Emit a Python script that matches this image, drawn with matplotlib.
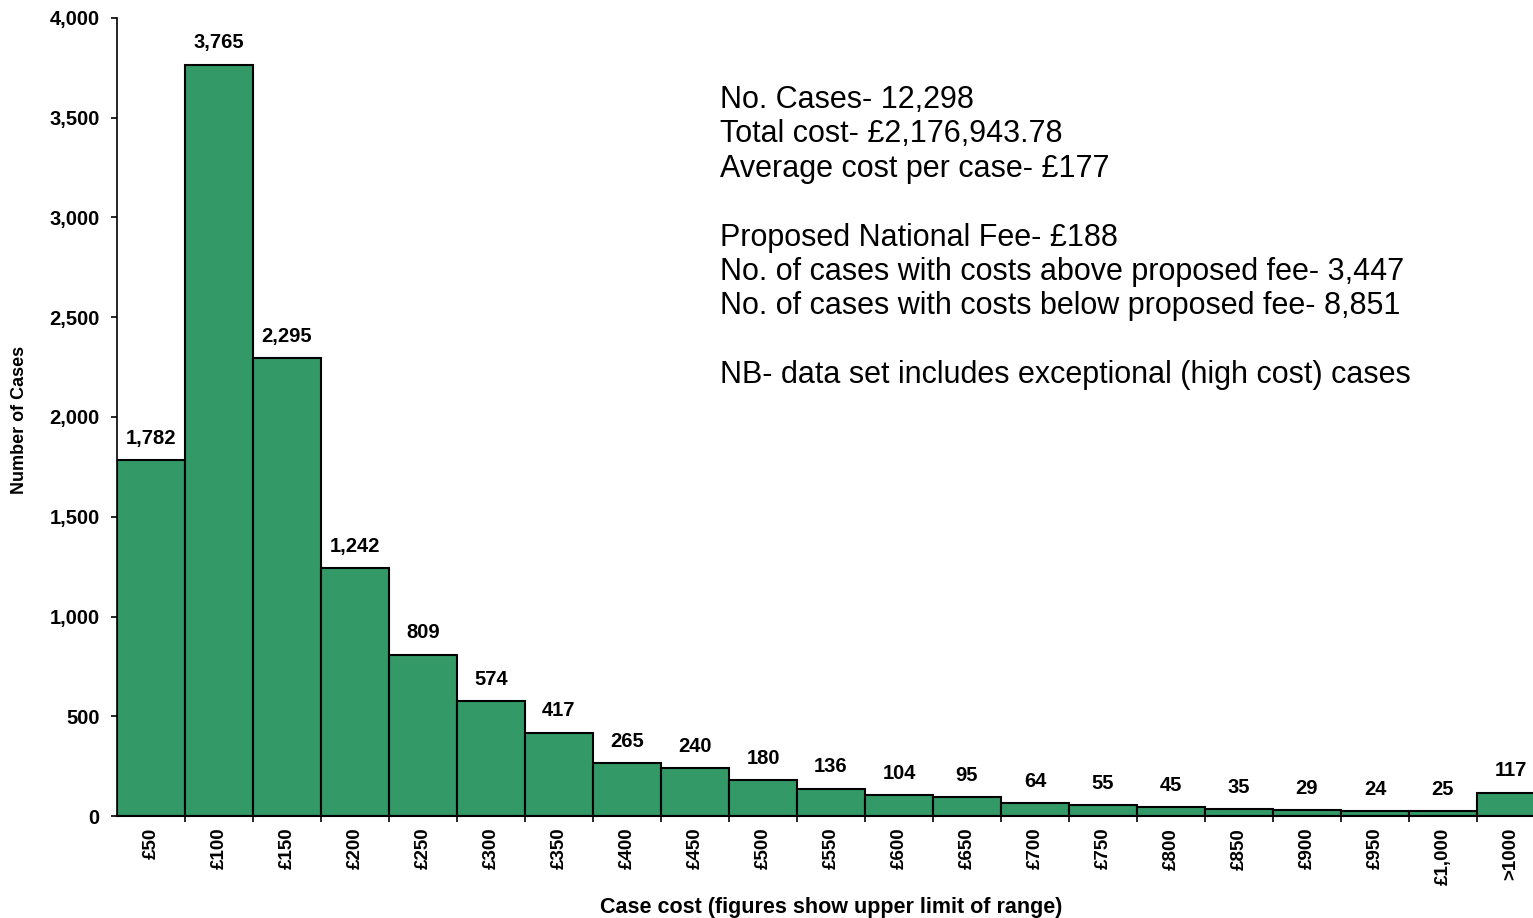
import numpy as np
import matplotlib
matplotlib.use("Agg")
import matplotlib.pyplot as plt

# case cost bands (upper limit of range) and number of cases in each
bands = ["£50", "£100", "£150", "£200", "£250", "£300", "£350", "£400", "£450", "£500",
         "£550", "£600", "£650", "£700", "£750", "£800", "£850", "£900", "£950", "£1,000", ">1000"]
cases = [1782, 3765, 2295, 1242, 809, 574, 417, 265, 240, 180,
         136, 104, 95, 64, 55, 45, 35, 29, 24, 25, 117]

summary_lines = [
    "No. Cases- 12,298",
    "Total cost- £2,176,943.78",
    "Average cost per case- £177",
    "",
    "Proposed National Fee- £188",
    "No. of cases with costs above proposed fee- 3,447",
    "No. of cases with costs below proposed fee- 8,851",
    "",
    "NB- data set includes exceptional (high cost) cases",
]

plt.rcParams["font.family"] = ["Liberation Sans", "DejaVu Sans"]

fig = plt.figure(figsize=(15.33, 9.18), dpi=100)
ax = fig.add_axes([117 / 1533, 102 / 918, 1 - 117 / 1533, (816 - 18) / 918])

x = np.arange(len(bands))
bars = ax.bar(x, cases, width=1.0, color="#339966", edgecolor="black", linewidth=1.5)

for xi, v in zip(x, cases):
    ax.annotate(f"{v:,}", (xi, v), xytext=(0, 9), textcoords="offset points",
                ha="center", va="bottom", fontsize=14.5, fontweight="bold")

ax.set_yticks(np.arange(0, 4001, 500))
ax.set_yticklabels([f"{t:,}" for t in range(0, 4001, 500)], fontsize=14.5, fontweight="bold")
ax.set_xticks(x)
ax.set_xticklabels(bands, rotation=90, fontsize=13.5, fontweight="bold", va="top")
ax.set_xticks(np.arange(len(bands)) + 0.5, minor=True)
# the last bar runs past the right edge of the picture
ax.set_xlim(-0.5, len(bands) - 0.5 - 12 / 68)
ax.set_ylim(0, 4000)
ax.tick_params(axis="x", which="major", length=0, pad=8.5)
ax.tick_params(axis="x", which="minor", length=4.5, width=1.2, direction="out")
ax.tick_params(axis="y", length=4.5, width=1.2, direction="out", pad=8)

for side in ["top", "right"]:
    ax.spines[side].set_visible(False)
ax.spines["left"].set_linewidth(1.2)
ax.spines["bottom"].set_linewidth(1.5)

fig.text(20 / 1533, 1 - 420 / 918, "Number of Cases", rotation=90, ha="center", va="center",
         fontsize=13, fontweight="bold")
fig.text((117 + 1545) / 2 / 1533, 1 - 907 / 918, "Case cost (figures show upper limit of range)",
         ha="center", va="center", fontsize=15.5, fontweight="bold")

for i, line in enumerate(summary_lines):
    fig.text(720 / 1533, 1 - (100 + i * 34.4) / 918, line, ha="left", va="center", fontsize=22)

fig.savefig("out.png", dpi=100)
